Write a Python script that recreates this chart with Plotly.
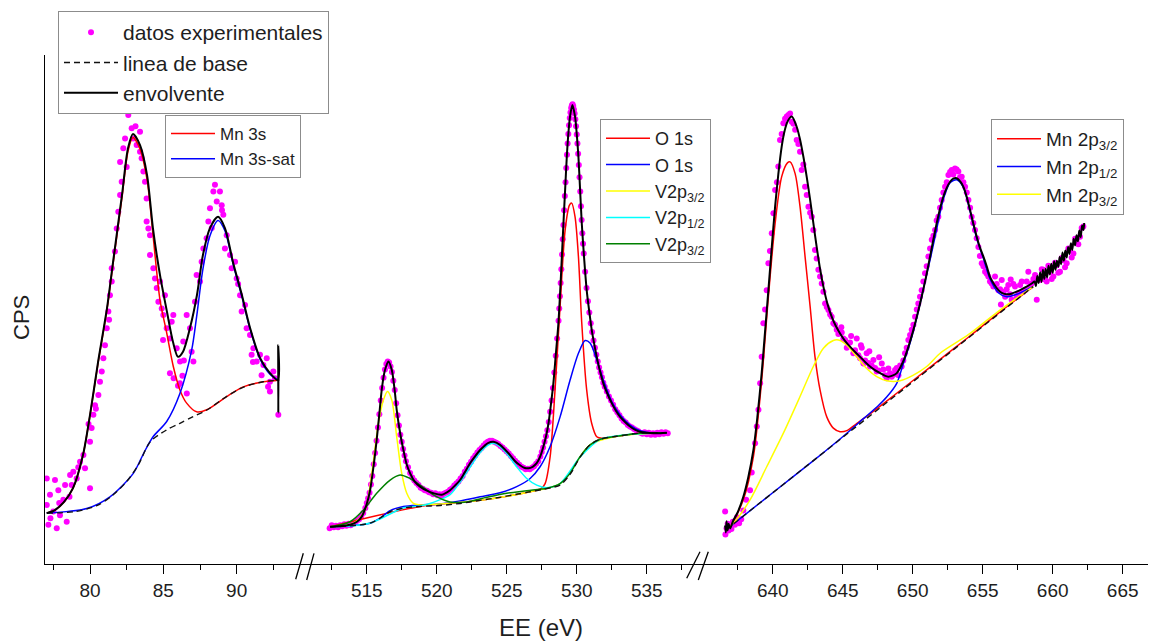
import plotly.graph_objects as go

# ---------------- Panel 1 : Mn 3s ----------------
mn3s_exp_x = [77.05, 77.61, 77.27, 77.84, 77.05, 78.18, 77.5, 77.95, 77.16, 77.73, 78.41, 78.64, 78.86, 79.09, 78.75,
              79.32, 79.55, 79.66, 80.0, 80.0, 80.11, 80.23, 80.34, 80.57, 80.68, 80.80, 80.91, 81.02, 81.14, 81.25,
              81.36, 81.48, 81.48, 81.70, 81.82, 81.93, 82.05, 82.16, 82.05, 82.27, 82.39, 82.61, 82.73, 82.84, 82.95,
              83.18, 83.41, 83.41, 83.52, 83.64, 83.75, 83.86, 83.86, 83.98, 84.09, 84.09, 84.32, 84.43, 84.55, 84.66,
              84.77, 84.89, 85.0, 85.11, 85.23, 85.45, 85.57, 85.68, 85.91, 86.14, 86.59, 86.36, 86.93, 87.05, 86.82,
              87.16, 87.27, 87.5, 87.61, 87.73, 87.95, 88.07, 88.18, 88.41, 88.52, 88.64, 88.86, 88.98, 89.09, 89.20,
              89.32, 89.55, 89.66, 89.89, 90.0, 90.23, 90.34, 90.57, 90.68, 90.91, 91.02, 91.14, 91.36, 91.59, 91.70,
              91.82, 92.05, 92.27, 92.27, 92.5, 92.61, 92.84, 84.98, 85.45, 86.13, 91.11, 92.14, 85.7, 86.0, 86.3,
              86.6, 86.4, 79.9, 80.4, 81.3, 82.5, 83.1, 88.3, 89.0, 90.1, 77.3, 77.9, 78.3, 78.6, 79.2]
mn3s_exp_y = [16.8, 16.5, 13.6, 14.5, 11.6, 12.6, 10.3, 9.6, 7.7, 7.0, 8.3, 17.5, 18.1, 16.8, 15.5,
              20.1, 21.4, 18.8, 24.0, 14.9, 26.7, 29.3, 31.2, 33.2, 35.8, 37.8, 40.4, 43.0, 46.3, 49.6,
              52.8, 55.5, 58.1, 61.4, 65.9, 69.2, 72.5, 75.1, 79.0, 81.7, 83.6, 88.2, 90.2, 85.6, 83.6,
              82.3, 84.9, 81.0, 79.7, 77.1, 75.1, 71.8, 67.3, 65.9, 64.6, 60.7, 58.1, 56.1, 54.2, 51.5,
              55.5, 50.2, 48.9, 52.8, 46.3, 44.3, 47.6, 48.9, 42.4, 39.8, 48.9, 43.7, 41.7, 39.8, 46.3,
              51.5, 56.8, 55.5, 59.4, 62.0, 64.0, 67.3, 69.9, 73.2, 74.5, 71.2, 73.2, 70.5, 68.6, 62.0,
              64.6, 60.7, 58.1, 59.4, 56.1, 52.8, 49.6, 50.9, 46.3, 45.0, 41.1, 42.4, 39.8, 41.1, 37.1,
              39.1, 40.4, 35.8, 33.9, 37.8, 36.5, 29.3, 44.0, 37.5, 35.5, 39.7, 34.8, 36.5, 35.0, 37.0,
              33.5, 40.0, 27.5, 30.5, 48.0, 78.0, 86.0, 66.0, 69.5, 55.0, 9.0, 12.0, 15.5, 13.2, 19.0]

mn3s_env_x = [77.05, 77.6, 78.2, 78.84, 79.52, 80.0, 80.55, 81.16, 81.57, 82.18, 82.59, 82.93, 83.41, 83.89,
              84.29, 84.77, 85.25, 85.66, 86.0, 86.34, 86.82, 87.29, 87.70, 88.18, 88.73, 89.20, 89.75, 90.36,
              90.91, 91.59, 92.27, 92.82, 92.83, 92.84, 92.85, 92.86]
mn3s_env_y = [10.0, 10.6, 12.1, 14.9, 21.4, 29.3, 39.7, 50.3, 59.3, 72.5, 81.7, 84.5, 82.3, 76.4,
              66.0, 56.8, 49.5, 43.6, 40.7, 41.7, 46.4, 52.8, 60.7, 66.0, 68.2, 66.0, 59.3, 52.8,
              46.4, 40.5, 37.5, 36.1, 43.0, 29.7, 41.0, 36.0]

mn3s_base_x = [77.05, 79.0, 80.5, 81.5, 82.5, 83.3, 84.1, 85.2, 86.1, 87.0, 88.0, 89.3, 90.5, 91.8, 92.84]
mn3s_base_y = [10.0, 10.3, 11.5, 13.4, 16.2, 19.5, 24.0, 26.3, 27.6, 28.9, 30.3, 32.9, 34.8, 35.8, 36.1]

mn3s_main_x = [77.05, 77.6, 78.2, 78.84, 79.52, 80.0, 80.55, 81.16, 81.57, 82.18, 82.59, 82.93, 83.41, 83.89,
               84.29, 84.77, 85.23, 85.68, 86.13, 86.59, 87.27, 87.96, 89.32, 90.45, 91.81, 92.84]
mn3s_main_y = [10.0, 10.6, 12.1, 14.9, 21.4, 29.2, 39.5, 50.0, 58.9, 72.0, 81.1, 83.8, 81.5, 75.5,
               64.8, 51.9, 45.4, 38.8, 34.2, 31.6, 29.9, 30.3, 32.9, 34.8, 35.8, 36.1]

mn3s_sat_x = [77.05, 79.77, 81.36, 82.95, 83.7, 84.3, 85.23, 86.13, 86.93, 87.27, 87.70, 88.18, 88.73, 89.20,
              89.75, 90.36, 90.91, 91.59, 92.27, 92.84]
mn3s_sat_y = [10.0, 10.9, 13.2, 17.8, 22.0, 25.0, 28.0, 33.5, 42.0, 48.6, 58.0, 64.5, 67.5, 65.5,
              59.0, 52.5, 46.2, 40.3, 37.3, 36.1]

# ---------------- Panel 2 : O 1s / V 2p ----------------
o1s_exp_x = [512.35, 512.5, 512.65, 512.8, 512.95, 513.1, 513.25, 513.4, 513.55, 513.7, 513.85, 514.0, 514.15,
             514.3, 514.45, 514.6, 514.75, 514.9, 515.0, 515.1, 515.2, 515.3, 515.4, 515.5, 515.6, 515.7, 515.8,
             515.9, 516.0, 516.1, 516.2, 516.3, 516.4, 516.5, 516.6, 516.7, 516.8, 516.9, 517.0, 517.1, 517.2,
             517.3, 517.4, 517.5, 517.6, 517.7, 517.8, 517.95, 518.1, 518.25, 518.4, 518.55, 518.7, 518.85, 519.0,
             519.15, 519.3, 519.45, 519.6, 519.75, 519.9, 520.05, 520.2, 520.35, 520.5, 520.65, 520.8, 520.95,
             521.1, 521.25, 521.4, 521.55, 521.7, 521.85, 522.0, 522.15, 522.3, 522.45, 522.6, 522.75, 522.9,
             523.05, 523.2, 523.35, 523.5, 523.65, 523.8, 523.95, 524.1, 524.25, 524.4, 524.55, 524.7, 524.85,
             525.0, 525.15, 525.3, 525.45, 525.6, 525.75, 525.9, 526.05, 526.2, 526.35, 526.5, 526.65, 526.8,
             526.95, 527.1, 527.25, 527.4, 527.5, 527.6, 527.7, 527.8, 527.9, 528.0, 528.1, 528.2, 528.3, 528.4,
             528.5, 528.6, 528.7, 528.75, 528.8, 528.85, 528.9, 528.95, 529.0, 529.05, 529.1, 529.15, 529.2,
             529.25, 529.3, 529.35, 529.4, 529.45, 529.5, 529.55, 529.6, 529.65, 529.7, 529.75, 529.8, 529.85,
             529.9, 529.95, 530.0, 530.05, 530.1, 530.15, 530.2, 530.25, 530.3, 530.35, 530.4, 530.45, 530.5,
             530.6, 530.7, 530.8, 530.9, 531.0, 531.1, 531.2, 531.3, 531.4, 531.5, 531.6, 531.7, 531.8, 531.9,
             532.0, 532.15, 532.3, 532.45, 532.6, 532.75, 532.9, 533.05, 533.2, 533.35, 533.5, 533.65, 533.8,
             533.95, 534.1, 534.25, 534.4, 534.55, 534.7, 534.85, 535.0, 535.15, 535.3, 535.45, 535.6, 535.75,
             535.9, 536.05, 536.2, 536.35, 536.5]
o1s_exp_y = [7.0, 7.6, 7.2, 7.5, 7.2, 7.6, 7.4, 7.8, 7.5, 7.9, 7.6, 8.0, 8.1,
             8.5, 8.8, 9.4, 10.0, 11.0, 12.0, 12.9, 14.0, 15.6, 17.3, 19.6, 21.8, 24.2, 26.8,
             29.4, 32.1, 34.6, 36.6, 38.2, 39.3, 39.8, 39.6, 38.8, 37.7, 36.0, 34.2, 31.6, 29.2,
             27.2, 25.4, 24.0, 22.6, 21.3, 20.2, 19.0, 17.9, 17.0, 16.4, 15.9, 15.5, 15.0, 14.8,
             14.5, 14.4, 14.1, 14.0, 13.7, 13.9, 13.5, 13.7, 13.4, 13.8, 14.0, 14.2, 14.6,
             14.9, 15.4, 15.8, 16.2, 16.8, 17.3, 18.1, 18.7, 19.5, 20.1, 20.8, 21.3, 21.9,
             22.4, 22.8, 23.3, 23.7, 24.0, 24.2, 24.2, 24.0, 23.8, 23.6, 23.2, 22.9, 22.5,
             22.1, 21.7, 21.2, 20.8, 20.3, 19.9, 19.5, 19.1, 18.9, 18.6, 18.7, 18.6, 18.9,
             19.2, 19.7, 20.2, 21.1, 22.0, 22.9, 24.0, 25.1, 26.3, 27.9, 29.9, 32.1, 34.6, 37.6,
             40.9, 44.3, 47.8, 50.2, 52.6, 55.2, 57.9, 60.8, 63.8, 66.6, 69.5, 72.3, 75.0,
             77.8, 80.4, 82.6, 84.5, 86.2, 87.6, 88.7, 89.6, 90.1, 90.3, 90.0, 89.3, 88.5,
             87.4, 86.0, 84.4, 82.6, 80.6, 78.4, 76.0, 73.2, 70.3, 67.6, 65.0, 62.9, 61.0,
             57.4, 54.2, 51.6, 49.4, 47.3, 45.6, 43.9, 42.5, 41.1, 39.8, 38.6, 37.6, 36.7, 35.6,
             34.8, 33.9, 32.9, 32.1, 31.3, 30.4, 29.8, 29.2, 28.6, 28.1, 27.8, 27.3, 27.0,
             26.8, 26.5, 26.3, 26.1, 25.8, 25.6, 25.9, 25.5, 25.8, 25.4, 25.7, 25.4, 25.8,
             25.5, 25.9, 25.6, 25.9, 25.7]

o1s_env_x = [512.38, 513.0, 513.81, 514.3, 514.64, 515.0, 515.24, 515.5, 515.71, 515.9, 516.07, 516.25, 516.38,
             516.55, 516.79, 517.0, 517.14, 517.4, 517.62, 517.85, 518.1, 518.4, 518.81, 519.3, 519.76, 520.36,
             520.95, 521.3, 521.67, 522.0, 522.38, 522.75, 523.1, 523.4, 523.69, 524.05, 524.52, 524.9, 525.24,
             525.6, 525.95, 526.25, 526.55, 526.85, 527.14, 527.4, 527.62, 527.8, 527.98, 528.15, 528.33, 528.5,
             528.69, 528.87, 529.05, 529.17, 529.29, 529.4, 529.52, 529.69, 529.88, 530.0, 530.12, 530.24,
             530.36, 530.53, 530.71, 530.9, 531.07, 531.25, 531.43, 531.65, 531.9, 532.2, 532.5, 532.8, 533.1,
             533.45, 533.81, 534.15, 534.52, 535.0, 535.48, 536.0, 536.43]
o1s_env_y = [7.3, 7.4, 7.7, 8.3, 9.3, 11.8, 14.5, 19.5, 24.4, 29.5, 34.2, 37.5, 38.8,
             39.8, 38.1, 34.0, 30.3, 25.5, 22.4, 19.6, 17.8, 16.3, 15.2, 14.4, 13.9, 13.6,
             14.5, 15.4, 16.5, 18.0, 19.8, 21.2, 22.4, 23.2, 23.8, 24.0, 23.4, 22.4, 21.4,
             20.2, 19.4, 18.9, 18.8, 19.1, 19.8, 21.2, 23.1, 25.0, 27.6, 31.2, 35.5, 41.0,
             47.3, 56.5, 66.9, 73.5, 80.0, 84.5, 87.9, 90.2, 87.9, 84.5, 80.0, 73.5,
             66.9, 60.0, 53.8, 49.5, 46.0, 43.2, 40.7, 38.0, 35.5, 33.4, 31.6, 30.1, 28.9,
             27.9, 27.0, 26.4, 26.0, 25.8, 25.7, 25.7, 25.8]

o1s_base_x = [512.38, 513.8, 515.2, 515.95, 516.67, 517.62, 518.81, 520.24, 521.67, 523.1, 524.52, 525.71,
              526.67, 527.5, 528.2, 528.81, 529.52, 530.24, 530.95, 531.67, 532.86, 534.52, 536.43]
o1s_base_y = [7.3, 7.5, 8.0, 9.0, 10.3, 11.0, 11.3, 11.5, 11.9, 12.5, 13.1, 13.7,
              14.2, 14.6, 15.0, 15.5, 17.6, 21.0, 23.4, 24.5, 25.1, 25.7, 25.8]

o1s_a_x = [512.38, 518.81, 523.1, 526.67, 527.45, 527.74, 528.1, 528.45, 528.81, 529.17, 529.48, 529.64,
           529.88, 530.12, 530.36, 530.71, 531.07, 531.43, 531.79, 532.86, 534.52, 536.43]
o1s_a_y = [7.3, 11.3, 12.5, 14.2, 14.8, 15.8, 21.1, 34.2, 50.6, 65.6, 70.5, 70.9,
           68.2, 60.4, 47.3, 34.2, 27.6, 25.0, 24.7, 25.1, 25.7, 25.8]

o1s_b_x = [512.38, 513.81, 515.24, 515.95, 516.67, 517.62, 518.81, 520.24, 521.67, 523.1, 524.52, 525.71,
           526.67, 527.38, 528.1, 528.81, 529.52, 530.12, 530.6, 530.95, 531.43, 531.9, 532.5, 533.1, 533.81,
           534.52, 535.48, 536.43]
o1s_b_y = [7.3, 7.5, 8.0, 9.0, 10.5, 11.3, 11.6, 11.8, 12.4, 13.2, 14.0, 15.2,
           16.8, 19.1, 23.1, 28.9, 36.1, 41.4, 43.9, 43.4, 40.1, 36.1, 31.9, 29.3, 27.3,
           26.2, 25.7, 25.8]

v2p32_a_x = [512.38, 514.05, 514.88, 515.36, 515.83, 516.19, 516.48, 516.79, 517.14, 517.5, 517.86, 518.33,
             518.81, 520.24, 523.1, 526.67, 528.81, 530.95, 532.86, 536.43]
v2p32_a_y = [7.3, 8.0, 10.6, 17.8, 27.6, 32.2, 33.9, 32.2, 25.0, 17.8, 13.9, 11.9,
             11.6, 11.8, 12.5, 14.2, 15.8, 23.4, 25.1, 25.8]

v2p12_x = [512.38, 515.2, 517.6, 518.81, 519.52, 520.2, 520.95, 521.6, 522.4, 523.1, 523.7, 524.05, 524.5,
           525.0, 525.71, 526.43, 527.14, 527.86, 528.81, 530.24, 531.67, 533.5, 536.43]
v2p12_y = [7.3, 8.0, 11.0, 11.4, 11.9, 12.6, 13.6, 15.8, 19.1, 21.9, 23.4, 23.7, 23.1,
           21.7, 19.1, 16.8, 15.5, 15.0, 15.8, 21.0, 24.5, 25.4, 25.8]

v2p32_b_x = [512.38, 513.81, 514.76, 515.71, 516.67, 517.38, 518.1, 518.81, 519.76, 520.95, 522.14, 523.57,
             525.0, 526.43, 527.86, 528.81, 529.52, 530.24, 530.95, 531.67, 532.86, 534.52, 536.43]
v2p32_b_y = [7.3, 8.3, 10.6, 13.9, 16.5, 17.5, 16.8, 15.5, 13.6, 12.2, 12.2, 13.1,
             13.9, 14.4, 14.9, 15.8, 17.8, 21.1, 23.4, 24.5, 25.1, 25.7, 25.8]

# ---------------- Panel 3 : Mn 2p ----------------
mn2p_exp_x = [636.6, 636.62, 636.7, 636.78, 636.85, 636.95, 637.05, 637.15, 637.3, 637.45, 637.6, 637.75, 637.9,
              638.1, 638.38, 638.5, 638.74, 638.86, 638.98, 639.1, 639.21, 639.33, 639.45, 639.57, 639.69, 639.8,
              639.93, 640.05, 640.17, 640.3, 640.4, 640.52, 640.64, 640.76, 640.88, 641.0, 641.12, 641.24,
              641.36, 641.48, 641.6, 641.71, 641.83, 641.95, 642.07, 642.19, 642.31, 642.43, 642.55, 642.67,
              642.79, 642.9, 643.02, 643.14, 643.26, 643.38, 643.5, 643.62, 643.74, 643.86, 643.98, 644.1,
              644.21, 644.33, 644.45, 644.57, 644.69, 644.93, 645.05, 645.17, 645.29, 645.4, 645.52, 645.76,
              645.88, 646.0, 646.12, 646.24, 646.36, 646.48, 646.6, 646.71, 646.83, 646.95, 647.07, 647.19,
              647.31, 647.43, 647.55, 647.79, 647.9, 648.02, 648.14, 648.26, 648.38, 648.5, 648.62, 648.74,
              648.86, 648.98, 649.1, 649.21, 649.33, 649.45, 649.57, 649.69, 649.81, 649.93, 650.05, 650.17,
              650.29, 650.4, 650.52, 650.64, 650.76, 650.88, 651.0, 651.12, 651.24, 651.36, 651.48, 651.6,
              651.71, 651.83, 651.95, 652.07, 652.19, 652.31, 652.43, 652.55, 652.67, 652.79, 652.9, 653.02,
              653.14, 653.26, 653.38, 653.5, 653.62, 653.74, 653.86, 653.98, 654.1, 654.21, 654.33, 654.45,
              654.57, 654.69, 654.8, 654.93, 655.05, 655.17, 655.29, 655.4, 655.52, 655.64, 655.76, 655.88,
              656.0, 656.12, 656.24, 656.36, 656.48, 656.6, 656.71, 656.83, 656.95, 657.07, 657.19, 657.31,
              657.43, 657.55, 657.67, 657.79, 657.9, 658.02, 658.14, 658.26, 658.38, 658.5, 658.62, 658.74,
              658.86, 659.1, 659.22, 659.33, 659.45, 659.57, 659.69, 659.81, 659.93, 660.05, 660.17, 660.29,
              660.4, 660.52, 660.64, 660.76, 660.88, 661.0, 661.12, 661.24, 661.36, 661.48, 661.6, 661.71,
              661.83, 661.95, 662.07, 662.19, 645.6, 646.3, 646.9, 647.6, 644.9, 656.3, 657.0]
mn2p_exp_y = [10.3, 5.8, 7.0, 7.9, 6.6, 7.4, 6.9, 8.3, 7.7, 9.2, 8.0, 8.8, 10.5,
              12.6, 14.5, 18.0, 23.7, 27.0, 30.3, 35.5, 40.7, 47.3, 50.0, 53.8, 59.1, 61.5,
              65.0, 68.9, 73.5, 75.0, 78.1, 83.3, 84.5, 86.6, 87.5, 87.9, 88.2, 88.5,
              86.9, 86.5, 85.3, 83.3, 82.5, 81.0, 77.4, 78.5, 74.1, 72.5, 70.2, 69.0,
              68.2, 65.6, 61.7, 60.0, 57.8, 56.5, 55.1, 53.5, 51.2, 50.5, 49.9, 49.0,
              48.6, 47.3, 47.0, 46.0, 45.2, 45.5, 44.3, 44.0, 42.5, 43.4, 43.5, 41.4,
              42.0, 44.3, 41.0, 40.4, 42.5, 39.4, 40.0, 41.4, 39.5, 38.8, 39.0, 40.1,
              38.5, 37.8, 38.0, 39.4, 38.2, 37.1, 36.5, 38.4, 37.5, 36.8, 37.2, 38.1,
              38.5, 37.1, 39.0, 38.8, 40.0, 41.4, 42.5, 44.0, 45.0, 46.0, 47.0, 48.6,
              50.0, 51.2, 52.5, 53.8, 55.5, 57.1, 58.5, 60.4, 62.0, 63.7, 64.5, 65.6,
              67.5, 68.2, 70.0, 71.5, 73.0, 74.1, 75.0, 76.4, 77.0, 77.4, 76.5, 77.7,
              77.5, 77.1, 76.0, 76.1, 75.0, 74.1, 73.0, 71.5, 70.0, 68.2, 67.0, 65.6,
              64.0, 62.3, 60.5, 59.1, 58.5, 57.4, 57.0, 56.5, 55.5, 55.1, 54.5, 56.5,
              55.0, 53.8, 54.0, 55.8, 53.5, 52.5, 54.0, 54.8, 53.0, 51.9, 55.0, 54.5,
              52.5, 53.2, 54.8, 55.5, 53.5, 53.8, 55.5, 57.4, 54.5, 55.1, 56.0, 56.8,
              51.9, 55.8, 57.9, 57.8, 55.9, 55.5, 58.6, 57.4, 56.0, 56.5, 59.2, 58.7,
              57.2, 57.4, 60.1, 59.7, 58.3, 59.1, 62.0, 61.7, 60.2, 61.0, 63.9, 63.7,
              62.8, 64.3, 66.0, 66.3, 44.8, 43.0, 41.8, 40.6, 46.5, 51.0, 55.9]

mn2p_env_x = [636.6, 636.65, 636.7, 636.78, 636.85, 636.95, 637.19, 637.5, 637.9, 638.25, 638.62, 638.9, 639.21,
              639.45, 639.69, 639.93, 640.17, 640.4, 640.64, 640.85, 641.05, 641.36, 641.71, 641.95, 642.19,
              642.43, 642.67, 642.9, 643.14, 643.38, 643.62, 643.9, 644.21, 644.5, 644.81, 645.15, 645.52,
              645.9, 646.24, 646.6, 646.95, 647.3, 647.67, 648.0, 648.26, 648.55, 648.86, 649.15, 649.45,
              649.75, 650.05, 650.35, 650.64, 650.95, 651.24, 651.48, 651.71, 651.95, 652.19, 652.43, 652.67,
              652.9, 653.14, 653.38, 653.62, 653.86, 654.1, 654.33, 654.57, 654.8, 655.05, 655.3, 655.52,
              655.8, 656.12, 656.4, 656.71, 657.05, 657.43, 657.8, 658.14, 658.5, 658.7, 658.8, 658.9, 659.0,
              659.1, 659.2, 659.3, 659.4, 659.5, 659.6, 659.7, 659.8, 659.9, 660.0, 660.1, 660.2, 660.3, 660.4,
              660.5, 660.6, 660.7, 660.8, 660.9, 661.0, 661.1, 661.2, 661.3, 661.4, 661.5, 661.6, 661.7, 661.8,
              661.9, 662.0, 662.1, 662.2, 662.25]
mn2p_env_y = [7.6, 6.2, 8.4, 6.6, 7.9, 7.0, 8.6, 10.2, 13.2, 17.0, 22.4, 28.8, 37.5,
              45.6, 53.8, 62.2, 70.2, 76.6, 82.0, 85.1, 86.9, 87.9, 85.9, 83.4, 80.0,
              76.0, 71.6, 67.0, 62.3, 58.0, 54.5, 51.2, 48.6, 46.8, 45.3, 43.9, 42.7,
              41.6, 40.7, 39.7, 38.8, 38.1, 37.5, 37.0, 36.8, 37.0, 37.5, 38.8, 40.7,
              43.2, 46.0, 49.2, 52.5, 56.4, 60.4, 63.8, 66.9, 69.8, 72.2, 73.9, 75.1,
              75.7, 75.8, 75.2, 74.1, 72.1, 69.5, 66.9, 64.3, 62.2, 60.4, 58.4, 56.4,
              55.0, 53.8, 53.2, 53.0, 53.1, 53.5, 54.0, 54.5, 55.1, 55.5, 54.6, 56.6, 55.2,
              57.3, 55.4, 57.8, 56.0, 58.0, 56.3, 58.6, 56.9, 59.0, 57.2, 59.5, 57.8, 59.6, 58.4,
              60.3, 58.9, 61.2, 59.6, 61.6, 60.2, 62.3, 60.9, 63.0, 61.7, 63.9, 62.6, 64.6, 63.4,
              65.5, 64.2, 66.5, 65.6, 67.0]

mn2p_base_x = [636.65, 658.6]
mn2p_base_y = [6.7, 54.5]

mn2p32_a_x = [636.65, 636.95, 637.9, 638.62, 639.21, 639.69, 640.17, 640.64, 641.05, 641.24, 641.6, 641.95,
              642.31, 642.67, 643.02, 643.38, 643.86, 644.33, 644.81, 645.29, 646.0, 647.0, 648.0, 650.0,
              652.0, 654.0, 656.0, 658.6]
mn2p32_a_y = [6.7, 7.3, 12.6, 21.1, 36.1, 52.5, 66.9, 76.1, 78.8, 79.0, 76.7, 70.2,
              60.4, 50.6, 40.7, 34.2, 28.9, 26.7, 26.0, 26.2, 27.6, 29.6, 31.7, 36.0,
              40.3, 44.6, 49.0, 54.5]

mn2p12_x = [636.65, 640.0, 643.0, 645.0, 646.5, 647.5, 648.14, 648.86, 649.33, 649.81, 650.3, 650.8, 651.3,
            651.75, 652.2, 652.67, 653.14, 653.62, 654.1, 654.57, 655.05, 655.52, 656.12, 656.71, 657.43,
            658.14, 658.6]
mn2p12_y = [6.7, 14.0, 20.5, 25.0, 28.6, 31.0, 32.8, 35.5, 39.4, 43.4, 48.5, 54.5, 60.5,
            66.3, 71.8, 74.9, 75.5, 74.0, 69.3, 64.0, 60.0, 56.0, 53.3, 52.5, 53.0,
            53.9, 54.5]

mn2p32_b_x = [636.65, 637.19, 638.38, 639.57, 640.76, 641.95, 642.9, 643.62, 644.33, 644.69, 645.29, 646.0,
              646.71, 647.43, 648.14, 649.1, 650.05, 651.0, 652.0, 654.0, 656.0, 658.6]
mn2p32_b_y = [6.7, 8.0, 12.6, 19.1, 25.7, 32.9, 38.8, 42.4, 43.9, 44.0, 43.0, 40.7,
              38.4, 36.8, 36.0, 36.0, 37.1, 38.8, 41.5, 45.1, 49.4, 54.5]

# axis ticks
seg1_ticks = [80, 85, 90]
seg1_minor = [77.5, 82.5, 87.5, 92.5]
seg2_ticks = [515, 520, 525, 530, 535]
seg2_minor = [512.5, 517.5, 522.5, 527.5, 532.5, 537.5]
seg3_ticks = [640, 645, 650, 655, 660, 665]
seg3_minor = [637.5, 642.5, 647.5, 652.5, 657.5, 662.5]

# ---------------- styling ----------------
FONT = "Arial, Liberation Sans, sans-serif"
TXT = "#1e1e1e"
MAG, RED, BLUE, YEL, CYAN, GREEN = "#ff00ff", "#ff0000", "#0000ff", "#ffff00", "#00ffff", "#008000"

fig = go.Figure()


def line(x, y, ax, color, name=None, legend=None, width=1.5, dash=None, show=False, shape="spline"):
    fig.add_trace(go.Scatter(x=x, y=y, xaxis=ax, yaxis="y", mode="lines", name=name,
                             line=dict(color=color, width=width, dash=dash, shape=shape, smoothing=0.8),
                             showlegend=show, legend=legend, hoverinfo="skip"))


def dots(x, y, ax, show=False):
    fig.add_trace(go.Scatter(x=x, y=y, xaxis=ax, yaxis="y", mode="markers", name="datos experimentales",
                             marker=dict(color=MAG, size=6), showlegend=show, legend="legend"))


dots(mn3s_exp_x, mn3s_exp_y, "x", show=True)
dots(o1s_exp_x, o1s_exp_y, "x2")
dots(mn2p_exp_x, mn2p_exp_y, "x3")

line(mn3s_main_x, mn3s_main_y, "x", RED, "Mn 3s", "legend2", show=True)
line(mn3s_sat_x, mn3s_sat_y, "x", BLUE, "Mn 3s-sat", "legend2", show=True)

line(o1s_a_x, o1s_a_y, "x2", RED, "O 1s", "legend3", show=True)
line(o1s_b_x, o1s_b_y, "x2", BLUE, "O 1s", "legend3", show=True)
line(v2p32_a_x, v2p32_a_y, "x2", YEL, "V2p<sub>3/2</sub>", "legend3", show=True)
line(v2p12_x, v2p12_y, "x2", CYAN, "V2p<sub>1/2</sub>", "legend3", show=True)
line(v2p32_b_x, v2p32_b_y, "x2", GREEN, "V2p<sub>3/2</sub>", "legend3", show=True)

line(mn2p32_a_x, mn2p32_a_y, "x3", RED, "Mn 2p<sub>3/2</sub>", "legend4", show=True)
line(mn2p12_x, mn2p12_y, "x3", BLUE, "Mn 2p<sub>1/2</sub>", "legend4", show=True)
line(mn2p32_b_x, mn2p32_b_y, "x3", YEL, "Mn 2p<sub>3/2</sub>", "legend4", show=True)

line(mn3s_base_x, mn3s_base_y, "x", "#111111", "linea de base", "legend", width=1.4, dash="6px,4px", show=True)
line(o1s_base_x, o1s_base_y, "x2", "#111111", width=1.4, dash="6px,4px")
line(mn2p_base_x, mn2p_base_y, "x3", "#111111", width=1.4, dash="6px,4px", shape="linear")

line(mn3s_env_x, mn3s_env_y, "x", "black", "envolvente", "legend", width=2, show=True)
line(o1s_env_x, o1s_env_y, "x2", "black", width=2)
line(mn2p_env_x, mn2p_env_y, "x3", "black", width=2)

# page body has an 8px margin, so the figure is placed 8px in from the window corner
OFF = 8
W, H = 1156 - OFF, 642 - OFF
L, R, T, B = 45 - OFF, 0, 55 - OFF, 78
PW, PH = W - L - R, H - T - B
d1 = (305 - 45) / PW
d2 = (697 - 45) / PW


def px(xs):
    return (xs - 45) / PW


def py(ys):
    return (564 - ys) / PH


def xaxis(dom, rng, ticks, minor):
    return dict(domain=dom, range=rng, showline=True, linecolor="black", linewidth=1.4, ticks="outside",
                ticklen=9, tickwidth=1.2, tickcolor="black", tickmode="array", tickvals=ticks,
                showgrid=False, zeroline=False, anchor="y", ticklabelstandoff=0,
                tickfont=dict(family=FONT, size=19, color=TXT),
                minor=dict(ticks="outside", ticklen=5, tickwidth=1.2, tickcolor="black", tickmode="array",
                           tickvals=minor, showgrid=False))


leg_common = dict(xanchor="left", yanchor="top", bgcolor="white", bordercolor="#8c8c8c", borderwidth=1,
                  tracegroupgap=0)

shapes = []
for (xa, ya, xb, yb) in [(303.3, 553.3, 295.7, 579.3), (314.0, 553.3, 306.7, 580.0),
                         (700.0, 551.7, 686.7, 578.3), (708.3, 551.7, 698.3, 580.0)]:
    shapes.append(dict(type="line", xref="paper", yref="paper", x0=px(xa), y0=py(ya), x1=px(xb), y1=py(yb),
                       line=dict(color="black", width=1.3)))

fig.update_layout(
    width=W, height=H, margin=dict(l=L, r=R, t=T, b=B, autoexpand=False),
    paper_bgcolor="white", plot_bgcolor="white",
    font=dict(family=FONT, color=TXT),
    xaxis=xaxis([0, d1], [76.93, 94.66], seg1_ticks, seg1_minor),
    xaxis2=xaxis([d1, d2], [510.59, 538.59], seg2_ticks, seg2_minor),
    xaxis3=xaxis([d2, 1], [634.59, 667.38], seg3_ticks, seg3_minor),
    yaxis=dict(domain=[0, 1], range=[0, 100], anchor="x", showline=True, linecolor="black", linewidth=1.4,
               ticks="", showticklabels=False, showgrid=False, zeroline=False),
    legend=dict(x=px(58), y=py(11), font=dict(family=FONT, size=21, color=TXT), itemwidth=54, **leg_common),
    legend2=dict(x=px(165), y=py(115), font=dict(family=FONT, size=17, color=TXT), itemwidth=44, **leg_common),
    legend3=dict(x=px(600), y=py(119), font=dict(family=FONT, size=18, color=TXT), itemwidth=44, **leg_common),
    legend4=dict(x=px(991), y=py(119), font=dict(family=FONT, size=19, color=TXT), itemwidth=44, **leg_common),
    annotations=[
        dict(text="EE (eV)", xref="paper", yref="paper", x=px(541), y=py(627), xanchor="center",
             yanchor="middle", showarrow=False, font=dict(family=FONT, size=24, color=TXT)),
        dict(text="CPS", xref="paper", yref="paper", x=px(21), y=py(318), xanchor="center", yanchor="middle",
             textangle=-90, showarrow=False, font=dict(family=FONT, size=22, color=TXT)),
    ],
    shapes=shapes,
    hovermode=False,
)

fig.write_html("out.html")
